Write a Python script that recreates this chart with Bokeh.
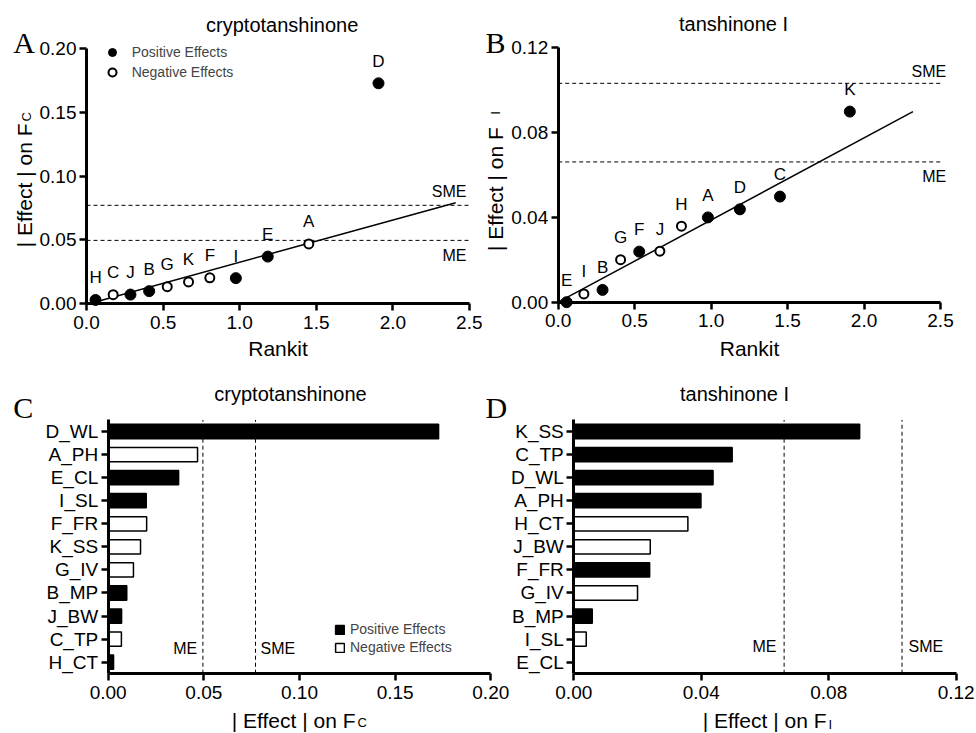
import math
from bokeh.plotting import figure
from bokeh.models import (Range1d, Label, Legend, LegendItem, FixedTicker,
                          PrintfTickFormatter, ColumnDataSource)
from bokeh.layouts import column, row
from bokeh.core.properties import value
from bokeh.embed import file_html
from bokeh.resources import INLINE

# ---------------- data ----------------
# cryptotanshinone (factors in ascending order of |effect|)
cryp_factors = ["H_CT", "C_TP", "J_BW", "B_MP", "G_IV", "K_SS", "F_FR", "I_SL", "E_CL", "A_PH", "D_WL"]
cryp_rankit = [0.059, 0.174, 0.287, 0.409, 0.527, 0.666, 0.805, 0.975, 1.183, 1.451, 1.906]
cryp_effect = [0.0028, 0.0069, 0.0070, 0.0097, 0.0132, 0.0169, 0.0201, 0.0199, 0.0368, 0.0467, 0.1727]
cryp_positive = [True, False, True, True, False, False, False, True, True, False, True]
cryp_fit_x = [0.07, 2.41]
cryp_fit_y = [0.0016, 0.0790]
cryp_me = 0.0495
cryp_sme = 0.0770

# tanshinone I
tans_factors = ["E_CL", "I_SL", "B_MP", "G_IV", "F_FR", "J_BW", "H_CT", "A_PH", "D_WL", "C_TP", "K_SS"]
tans_rankit = [0.055, 0.168, 0.290, 0.408, 0.530, 0.665, 0.806, 0.979, 1.188, 1.450, 1.907]
tans_effect = [0.0000, 0.0039, 0.0058, 0.0200, 0.0238, 0.0240, 0.0358, 0.0399, 0.0437, 0.0497, 0.0897]
tans_positive = [True, False, True, False, True, False, False, True, True, True, True]
tans_fit_x = [0.0, 2.32]
tans_fit_y = [0.0, 0.0897]
tans_me = 0.0660
tans_sme = 0.1030

rankit_ticks = [0.0, 0.5, 1.0, 1.5, 2.0, 2.5]
cryp_ticks = [0.0, 0.05, 0.10, 0.15, 0.20]
tans_ticks = [0.0, 0.04, 0.08, 0.12]

legend_labels = ["Positive Effects", "Negative Effects"]

FONT = "Liberation Sans"
SERIF = "Liberation Serif"


class Map:
    """linear map from page pixels (reference picture) to data coordinates"""
    def __init__(self, px0, px1, dx0, dx1, py0, py1, dy0, dy1):
        self.px0, self.px1, self.dx0, self.dx1 = px0, px1, dx0, dx1
        self.py0, self.py1, self.dy0, self.dy1 = py0, py1, dy0, dy1

    def x(self, px):
        return self.dx0 + (px - self.px0) * (self.dx1 - self.dx0) / (self.px1 - self.px0)

    def y(self, py):
        return self.dy0 + (py - self.py0) * (self.dy1 - self.dy0) / (self.py1 - self.py0)


def make_fig(m, cx0, cx1, cy0, cy1):
    """figure whose frame fills its whole canvas [cx0,cx1]x[cy0,cy1] (page px)"""
    p = figure(width=cx1 - cx0, height=cy1 - cy0,
               x_range=Range1d(m.x(cx0), m.x(cx1)),
               y_range=Range1d(m.y(cy1), m.y(cy0)),
               output_backend="svg", toolbar_location=None,
               min_border_left=0, min_border_right=0,
               min_border_top=0, min_border_bottom=0)
    p.xgrid.visible = False
    p.ygrid.visible = False
    p.outline_line_color = None
    p.background_fill_color = "white"
    p.border_fill_color = "white"
    for ax in (p.xaxis[0], p.yaxis[0]):
        ax.axis_line_width = 3
        ax.axis_line_color = "black"
        ax.major_tick_line_width = 2.5
        ax.major_tick_line_color = "black"
        ax.major_tick_out = 7
        ax.major_tick_in = 0
        ax.minor_tick_line_color = None
        ax.major_label_text_font = FONT
        ax.major_label_text_font_size = "19px"
        ax.major_label_text_color = "black"
    p.xaxis[0].major_label_standoff = 5
    p.yaxis[0].major_label_standoff = 3
    return p


def add_label(p, m, px, py, text, size, align="left", angle=0.0, font=FONT):
    """(px, py): page position of the visual centre line of the text"""
    p.add_layout(Label(x=m.x(px), y=m.y(py), text=text, text_font=font,
                       text_font_size=f"{size}px", text_align=align,
                       text_baseline="middle", angle=angle, text_color="black"))


def style_legend(leg, gw, gh, lh, spacing, standoff, size):
    leg.border_line_color = None
    leg.background_fill_alpha = 0
    leg.padding = 0
    leg.margin = 0
    leg.spacing = spacing
    leg.glyph_width = gw
    leg.glyph_height = gh
    leg.label_height = lh
    leg.label_standoff = standoff
    leg.label_text_font = FONT
    leg.label_text_font_size = f"{size}px"


def scatter_panel(p, rankit, effect, factors, positive, fit_x, fit_y, me, sme,
                  x_ticks, y_ticks, legend_loc=None):
    p.xaxis.fixed_location = 0
    p.yaxis.fixed_location = 0
    p.xaxis.bounds = (x_ticks[0], x_ticks[-1])
    p.yaxis.bounds = (y_ticks[0], y_ticks[-1])
    p.xaxis.ticker = FixedTicker(ticks=x_ticks)
    p.xaxis.formatter = PrintfTickFormatter(format="%.1f")
    p.yaxis.ticker = FixedTicker(ticks=y_ticks)
    p.yaxis.formatter = PrintfTickFormatter(format="%.2f")
    xr = [x_ticks[0], x_ticks[-1]]
    p.line(xr, [me, me], line_color="black", line_width=1, line_dash="4 3")
    p.line(xr, [sme, sme], line_color="black", line_width=1, line_dash="4 3")
    p.line(fit_x, fit_y, line_color="black", line_width=1.5)
    px = [r for r, s in zip(rankit, positive) if s]
    py = [e for e, s in zip(effect, positive) if s]
    nx = [r for r, s in zip(rankit, positive) if not s]
    ny = [e for e, s in zip(effect, positive) if not s]
    rp = p.scatter(px, py, size=11, fill_color="black", line_color="black", line_width=1)
    rn = p.scatter(nx, ny, size=9, fill_color="white", line_color="black", line_width=2)
    p.text(x=rankit, y=effect, text=[f[0] for f in factors],
           text_font=value(FONT), text_font_size=value("17px"),
           text_align="center", text_baseline="middle", y_offset=-22,
           text_color="black")
    if legend_loc is not None:
        leg = Legend(items=[LegendItem(label=legend_labels[0], renderers=[rp]),
                            LegendItem(label=legend_labels[1], renderers=[rn])],
                     location=legend_loc)
        style_legend(leg, 20, 20, 19, 0, 10, 14)
        p.add_layout(leg)


def bar_panel(p, factors, effect, positive, me, sme, x_ticks, legend_loc=None):
    n = len(factors)
    ypos = list(range(1, n + 1))
    p.xaxis.fixed_location = 0.5
    p.yaxis.fixed_location = 0
    p.xaxis.bounds = (x_ticks[0], x_ticks[-1])
    p.yaxis.bounds = (0.5, n + 0.5)
    p.xaxis.ticker = FixedTicker(ticks=x_ticks)
    p.xaxis.formatter = PrintfTickFormatter(format="%.2f")
    p.yaxis.ticker = FixedTicker(ticks=ypos)
    p.yaxis.major_label_overrides = {k: f for k, f in zip(ypos, factors)}
    pos = ColumnDataSource(dict(y=[k for k, s in zip(ypos, positive) if s],
                                right=[e for e, s in zip(effect, positive) if s]))
    neg = ColumnDataSource(dict(y=[k for k, s in zip(ypos, positive) if not s],
                                right=[e for e, s in zip(effect, positive) if not s]))
    rp = p.hbar(y="y", right="right", left=0, height=0.62, source=pos,
                fill_color="black", line_color="black", line_width=1.5)
    rn = p.hbar(y="y", right="right", left=0, height=0.62, source=neg,
                fill_color="white", line_color="black", line_width=1.5)
    yr = [0.5, n + 0.5]
    p.line([me, me], yr, line_color="black", line_width=1, line_dash="4 3")
    p.line([sme, sme], yr, line_color="black", line_width=1, line_dash="4 3")
    if legend_loc is not None:
        leg = Legend(items=[LegendItem(label=legend_labels[0], renderers=[rp]),
                            LegendItem(label=legend_labels[1], renderers=[rn])],
                     location=legend_loc)
        style_legend(leg, 11, 11, 15, 2, 5, 14)
        p.add_layout(leg)


SPLIT_TOP = 482   # page x where panel B's canvas starts
SPLIT_BOT = 509   # page x where panel D's canvas starts

# ---------------- panel A ----------------
mA = Map(86, 469, 0, 2.5, 303, 48, 0, 0.20)
pA = make_fig(mA, 0, SPLIT_TOP, 0, 360)
scatter_panel(pA, cryp_rankit, cryp_effect, cryp_factors, cryp_positive,
              cryp_fit_x, cryp_fit_y, cryp_me, cryp_sme, rankit_ticks, cryp_ticks,
              legend_loc=(101.7, 278))
add_label(pA, mA, 281.7, 24.5, "cryptotanshinone", 20, align="center")
add_label(pA, mA, 12.7, 41.7, "A", 30, font=SERIF)
add_label(pA, mA, 277.5, 348, "Rankit", 21, align="center")
add_label(pA, mA, 23.5, 123, "| Effect | on F", 21, align="right", angle=math.pi / 2)
add_label(pA, mA, 26, 121, "C", 13, align="left", angle=math.pi / 2)
add_label(pA, mA, 466, 190.7, "SME", 16, align="right")
add_label(pA, mA, 466, 255, "ME", 16, align="right")

# ---------------- panel B ----------------
mB = Map(557.7, 940, 0, 2.5, 301.7, 46.7, 0, 0.12)
pB = make_fig(mB, SPLIT_TOP, 976, 0, 360)
scatter_panel(pB, tans_rankit, tans_effect, tans_factors, tans_positive,
              tans_fit_x, tans_fit_y, tans_me, tans_sme, rankit_ticks, tans_ticks)
add_label(pB, mB, 733, 23.5, "tanshinone I", 20, align="center")
add_label(pB, mB, 485, 41.7, "B", 30, font=SERIF)
add_label(pB, mB, 749, 348, "Rankit", 21, align="center")
add_label(pB, mB, 494.5, 126.7, "| Effect | on F", 21, align="right", angle=math.pi / 2)
add_label(pB, mB, 495, 114, "I", 12, align="left", angle=math.pi / 2)
add_label(pB, mB, 945.7, 71, "SME", 16, align="right")
add_label(pB, mB, 945.7, 176, "ME", 16, align="right")

# ---------------- panel C ----------------
mC = Map(107.7, 490.3, 0, 0.20, 661.7, 431, 1, len(cryp_factors))
pC = make_fig(mC, 0, SPLIT_BOT, 360, 733)
bar_panel(pC, cryp_factors, cryp_effect, cryp_positive, cryp_me, cryp_sme,
          cryp_ticks, legend_loc=(334, 78))
add_label(pC, mC, 290, 393, "cryptotanshinone", 20, align="center")
add_label(pC, mC, 12.7, 406.7, "C", 30, font=SERIF)
add_label(pC, mC, 485, 407.3, "D", 30, font=SERIF)
add_label(pC, mC, 355, 720, "| Effect | on F", 21, align="right")
add_label(pC, mC, 357, 722, "C", 13, align="left")
add_label(pC, mC, 196.7, 648, "ME", 16, align="right")
add_label(pC, mC, 260, 648, "SME", 16, align="left")

# ---------------- panel D ----------------
mD = Map(573.3, 955.7, 0, 0.12, 661.7, 431, 1, len(tans_factors))
pD = make_fig(mD, SPLIT_BOT, 976, 360, 733)
bar_panel(pD, tans_factors, tans_effect, tans_positive, tans_me, tans_sme, tans_ticks)
add_label(pD, mD, 734, 393.5, "tanshinone I", 20, align="center")
add_label(pD, mD, 826, 720, "| Effect | on F", 21, align="right")
add_label(pD, mD, 828, 723.5, "I", 13, align="left")
add_label(pD, mD, 776, 646, "ME", 16, align="right")
add_label(pD, mD, 908, 646, "SME", 16, align="left")

layout = column(row(pA, pB), row(pC, pD))
open("out.html", "w").write(file_html(layout, INLINE))
